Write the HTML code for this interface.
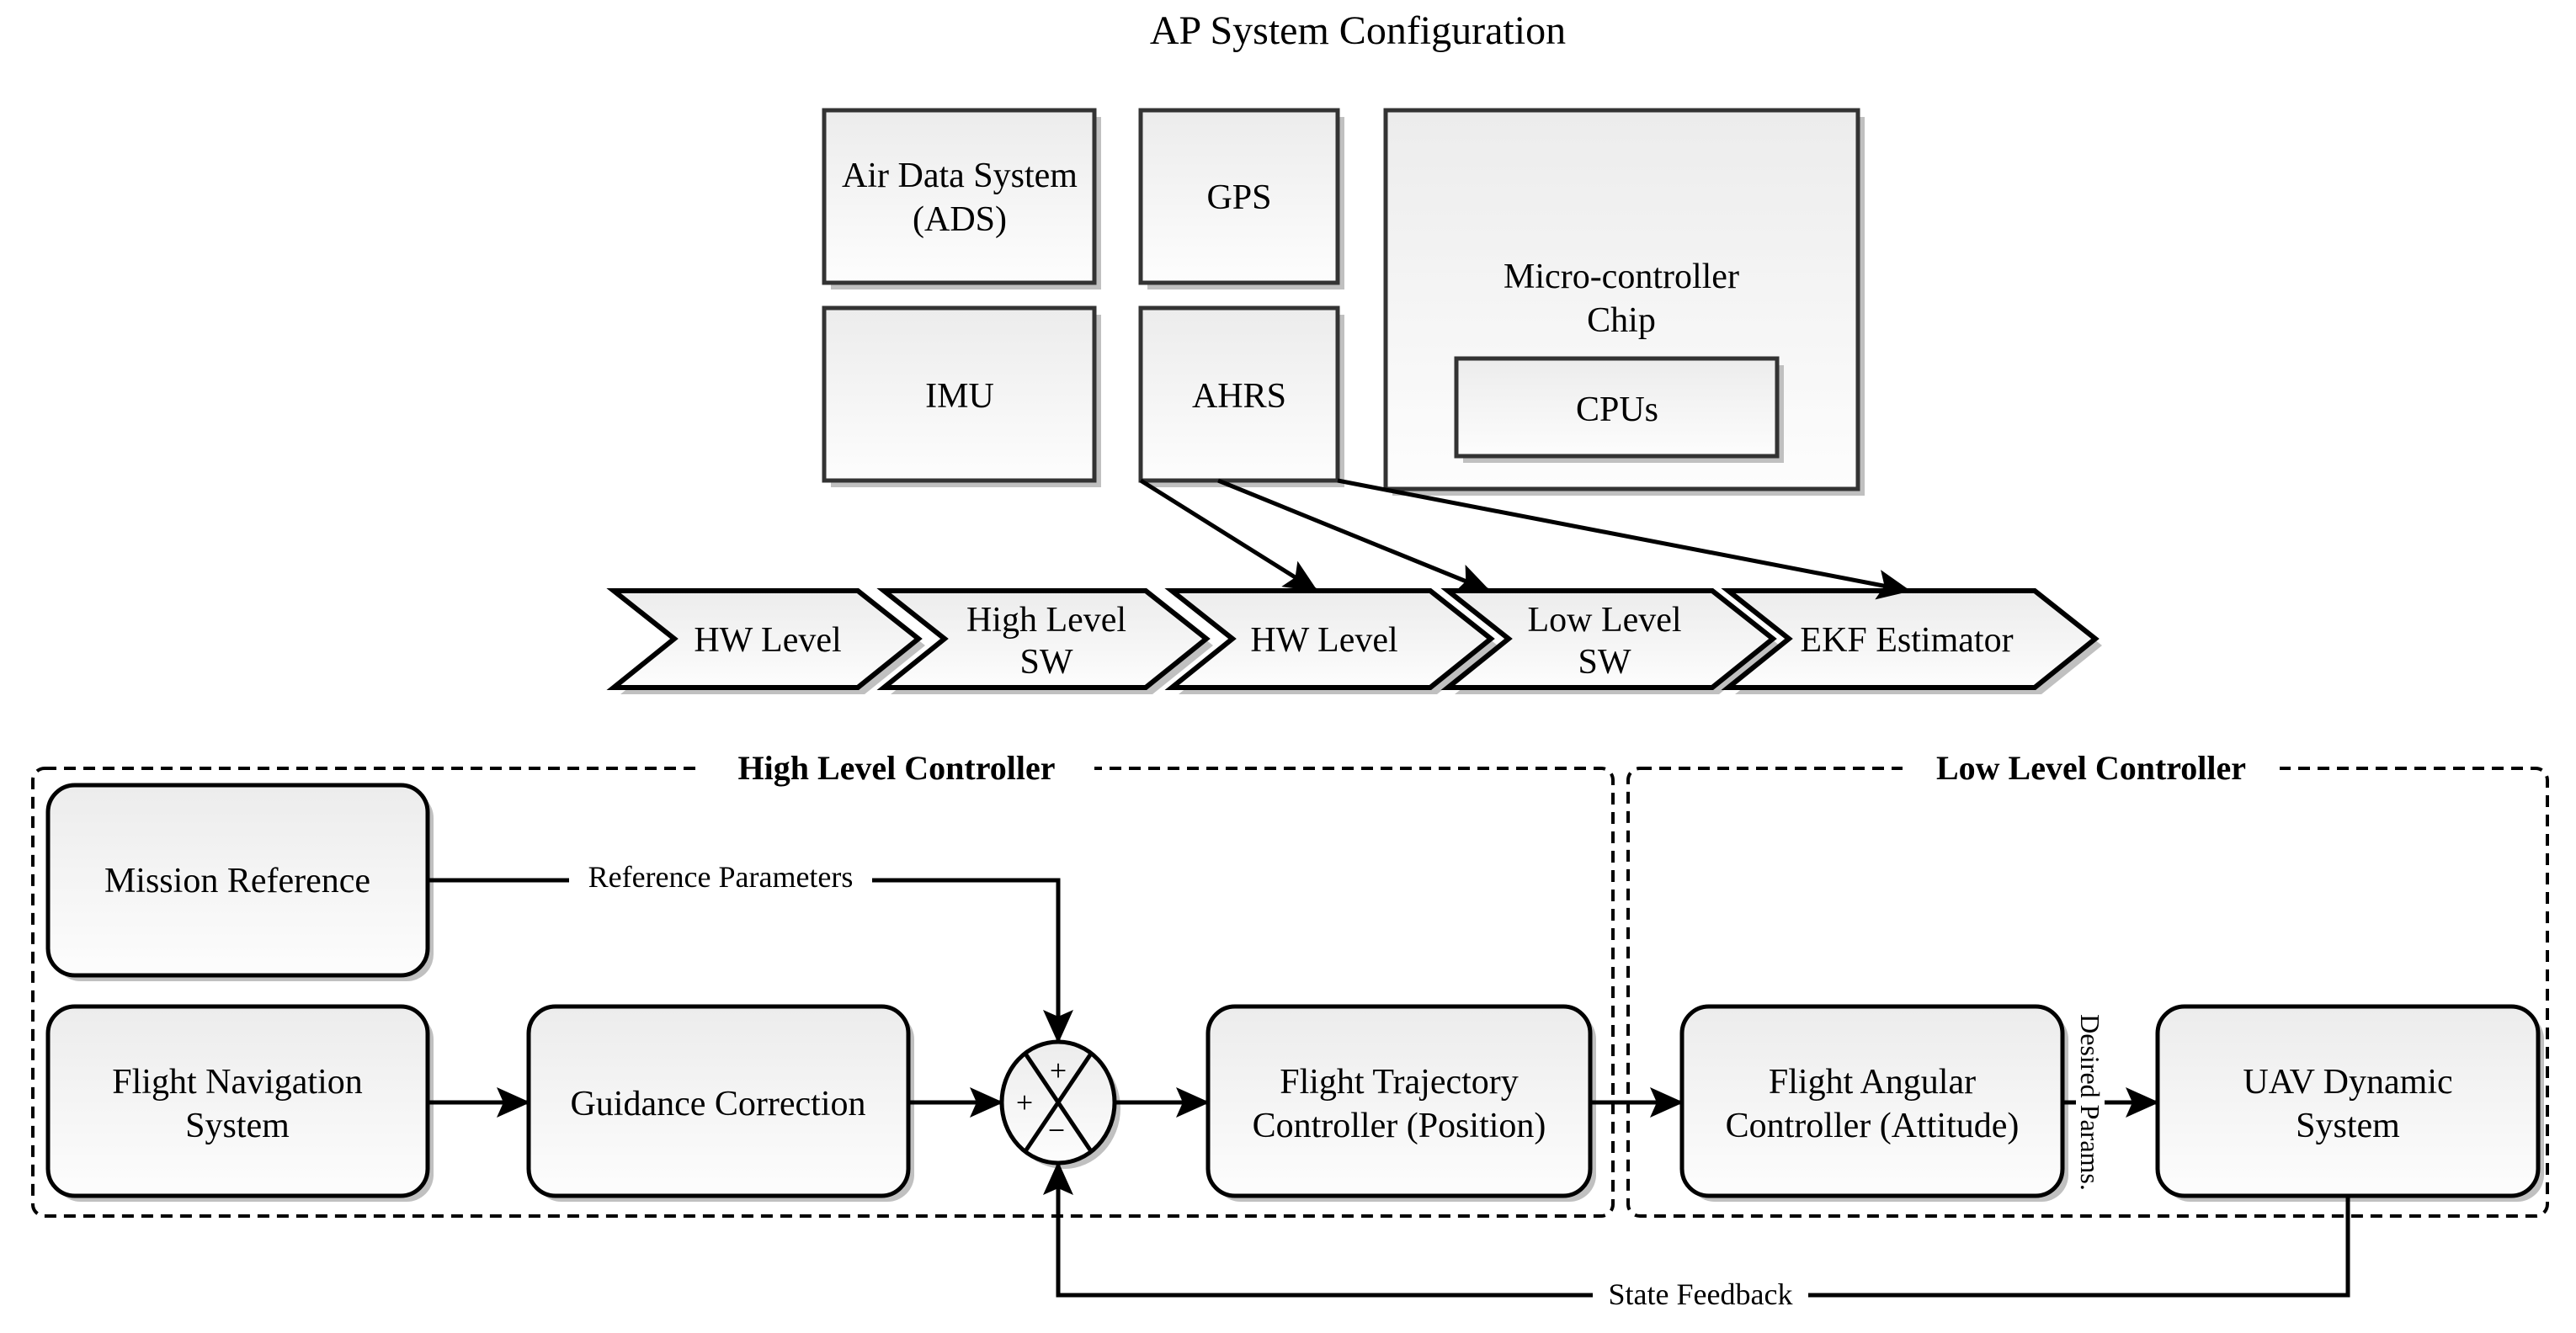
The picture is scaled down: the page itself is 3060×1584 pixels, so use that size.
<!DOCTYPE html>
<html><head><meta charset="utf-8"><style>html,body{margin:0;padding:0;background:#fff}svg{display:block}svg text{font-family:"Liberation Serif","DejaVu Serif",serif}</style></head>
<body>
<svg width="3060" height="1584" viewBox="0 0 3060 1584" xmlns="http://www.w3.org/2000/svg">
<defs>
<linearGradient id="g" x1="0" y1="0" x2="0" y2="1"><stop offset="0" stop-color="#ececec"/><stop offset="1" stop-color="#fdfdfd"/></linearGradient>
<marker id="b" markerWidth="40" markerHeight="36" refX="38" refY="18" orient="auto" markerUnits="userSpaceOnUse"><path d="M0,0 L40,18 L0,36 L8,18 z" fill="#000"/></marker>
</defs>
<text x="1613" y="52" font-size="48" text-anchor="middle">AP System Configuration</text>

<g stroke="#333" stroke-width="5">
<rect x="987" y="139" width="321" height="205" fill="#c0c0c0" stroke="none"/>
<rect x="1363" y="139" width="234" height="205" fill="#c0c0c0" stroke="none"/>
<rect x="987" y="374" width="321" height="205" fill="#c0c0c0" stroke="none"/>
<rect x="1363" y="374" width="234" height="205" fill="#c0c0c0" stroke="none"/>
<rect x="1654" y="139" width="561" height="450" fill="#c0c0c0" stroke="none"/>
<rect x="979" y="131" width="321" height="205" fill="url(#g)"/>
<rect x="1355" y="131" width="234" height="205" fill="url(#g)"/>
<rect x="979" y="366" width="321" height="205" fill="url(#g)"/>
<rect x="1355" y="366" width="234" height="205" fill="url(#g)"/>
<rect x="1646" y="131" width="561" height="450" fill="url(#g)"/>
<rect x="1738" y="434" width="381" height="116" fill="#c0c0c0" stroke="none"/>
<rect x="1730" y="426" width="381" height="116" fill="url(#g)"/>
</g>
<g font-size="42" text-anchor="middle">
<text x="1140" y="222">Air Data System</text><text x="1140" y="274">(ADS)</text>
<text x="1472" y="248">GPS</text>
<text x="1140" y="484">IMU</text>
<text x="1472" y="484">AHRS</text>
<text x="1926" y="342">Micro-controller</text><text x="1926" y="394">Chip</text>
<text x="1921" y="500">CPUs</text>
</g>

<g stroke="#000" stroke-width="6" fill="url(#g)">
<path d="M737,710 L1027,710 L1099,767 L1027,825 L737,825 L809,767 z" fill="#c0c0c0" stroke="none"/>
<path d="M1058,710 L1369,710 L1441,767 L1369,825 L1058,825 L1130,767 z" fill="#c0c0c0" stroke="none"/>
<path d="M1400,710 L1707,710 L1779,767 L1707,825 L1400,825 L1472,767 z" fill="#c0c0c0" stroke="none"/>
<path d="M1728,710 L2042,710 L2114,767 L2042,825 L1728,825 L1800,767 z" fill="#c0c0c0" stroke="none"/>
<path d="M2061,710 L2425,710 L2497,767 L2425,825 L2061,825 L2133,767 z" fill="#c0c0c0" stroke="none"/>
<path d="M729,702 L1019,702 L1091,759 L1019,817 L729,817 L801,759 z"/>
<path d="M1050,702 L1361,702 L1433,759 L1361,817 L1050,817 L1122,759 z"/>
<path d="M1392,702 L1699,702 L1771,759 L1699,817 L1392,817 L1464,759 z"/>
<path d="M1720,702 L2034,702 L2106,759 L2034,817 L1720,817 L1792,759 z"/>
<path d="M2053,702 L2417,702 L2489,759 L2417,817 L2053,817 L2125,759 z"/>
</g>
<g font-size="42" text-anchor="middle">
<text x="912" y="774">HW Level</text>
<text x="1243" y="750">High Level</text><text x="1243" y="800">SW</text>
<text x="1573" y="774">HW Level</text>
<text x="1906" y="750">Low Level</text><text x="1906" y="800">SW</text>
<text x="2265" y="774">EKF Estimator</text>
</g>
<g stroke="#000" stroke-width="5" fill="none" marker-end="url(#b)">
<line x1="1355" y1="571" x2="1564" y2="702"/>
<line x1="1447" y1="571" x2="1769" y2="702"/>
<line x1="1589" y1="571" x2="2268" y2="702"/>
</g>

<g stroke="#000" stroke-width="4" fill="none" stroke-dasharray="14,9">
<rect x="39" y="913" width="1877" height="532" rx="14"/>
<rect x="1934" y="913" width="1092" height="532" rx="14"/>
</g>
<rect x="830" y="890" width="470" height="50" fill="#fff"/>
<rect x="2260" y="890" width="448" height="50" fill="#fff"/>
<g font-size="40" font-weight="bold" text-anchor="middle">
<text x="1065" y="926">High Level Controller</text>
<text x="2484" y="926">Low Level Controller</text>
</g>

<g stroke="#000" stroke-width="5">
<g fill="#c0c0c0" stroke="none">
<rect x="64" y="940" width="451" height="226" rx="32"/>
<rect x="64" y="1203" width="451" height="225" rx="32"/>
<rect x="635" y="1203" width="451" height="225" rx="32"/>
<rect x="1442" y="1203" width="454" height="225" rx="32"/>
<rect x="2005" y="1203" width="452" height="225" rx="32"/>
<rect x="2570" y="1203" width="452" height="225" rx="32"/>
<ellipse cx="1264" cy="1317" rx="67" ry="72"/>
</g>
<rect x="57" y="933" width="451" height="226" rx="32" fill="url(#g)"/>
<rect x="57" y="1196" width="451" height="225" rx="32" fill="url(#g)"/>
<rect x="628" y="1196" width="451" height="225" rx="32" fill="url(#g)"/>
<rect x="1435" y="1196" width="454" height="225" rx="32" fill="url(#g)"/>
<rect x="1998" y="1196" width="452" height="225" rx="32" fill="url(#g)"/>
<rect x="2563" y="1196" width="452" height="225" rx="32" fill="url(#g)"/>
<ellipse cx="1257" cy="1310" rx="67" ry="72" fill="url(#g)"/>
<line x1="1218" y1="1252" x2="1296" y2="1368"/>
<line x1="1296" y1="1252" x2="1218" y2="1368"/>
</g>
<g font-size="42" text-anchor="middle">
<text x="282" y="1060">Mission Reference</text>
<text x="282" y="1299">Flight Navigation</text><text x="282" y="1351">System</text>
<text x="853" y="1325">Guidance Correction</text>
<text x="1662" y="1299">Flight Trajectory</text><text x="1662" y="1351">Controller (Position)</text>
<text x="2224" y="1299">Flight Angular</text><text x="2224" y="1351">Controller (Attitude)</text>
<text x="2789" y="1299">UAV Dynamic</text><text x="2789" y="1351">System</text>
<text x="1257" y="1284" font-size="36">+</text>
<text x="1217" y="1322" font-size="36">+</text>
<text x="1255" y="1355" font-size="36">−</text>
</g>

<g stroke="#000" stroke-width="5" fill="none">
<polyline points="508,1046 1257,1046 1257,1238" marker-end="url(#b)"/>
<line x1="508" y1="1310" x2="628" y2="1310" marker-end="url(#b)"/>
<line x1="1079" y1="1310" x2="1190" y2="1310" marker-end="url(#b)"/>
<line x1="1324" y1="1310" x2="1435" y2="1310" marker-end="url(#b)"/>
<line x1="1889" y1="1310" x2="1998" y2="1310" marker-end="url(#b)"/>
<line x1="2450" y1="1310" x2="2563" y2="1310" marker-end="url(#b)"/>
<polyline points="2789,1421 2789,1539 1257,1539 1257,1382" marker-end="url(#b)"/>
</g>
<rect x="676" y="1026" width="360" height="40" fill="#fff"/>
<text x="856" y="1054" font-size="36" text-anchor="middle">Reference Parameters</text>
<rect x="1892" y="1520" width="256" height="40" fill="#fff"/>
<text x="2020" y="1550" font-size="36" text-anchor="middle">State Feedback</text>
<rect x="2466" y="1196" width="34" height="225" fill="#fff"/>
<text x="0" y="0" font-size="32" text-anchor="middle" transform="translate(2472,1310) rotate(90)">Desired Params.</text>
</svg>
</body></html>
